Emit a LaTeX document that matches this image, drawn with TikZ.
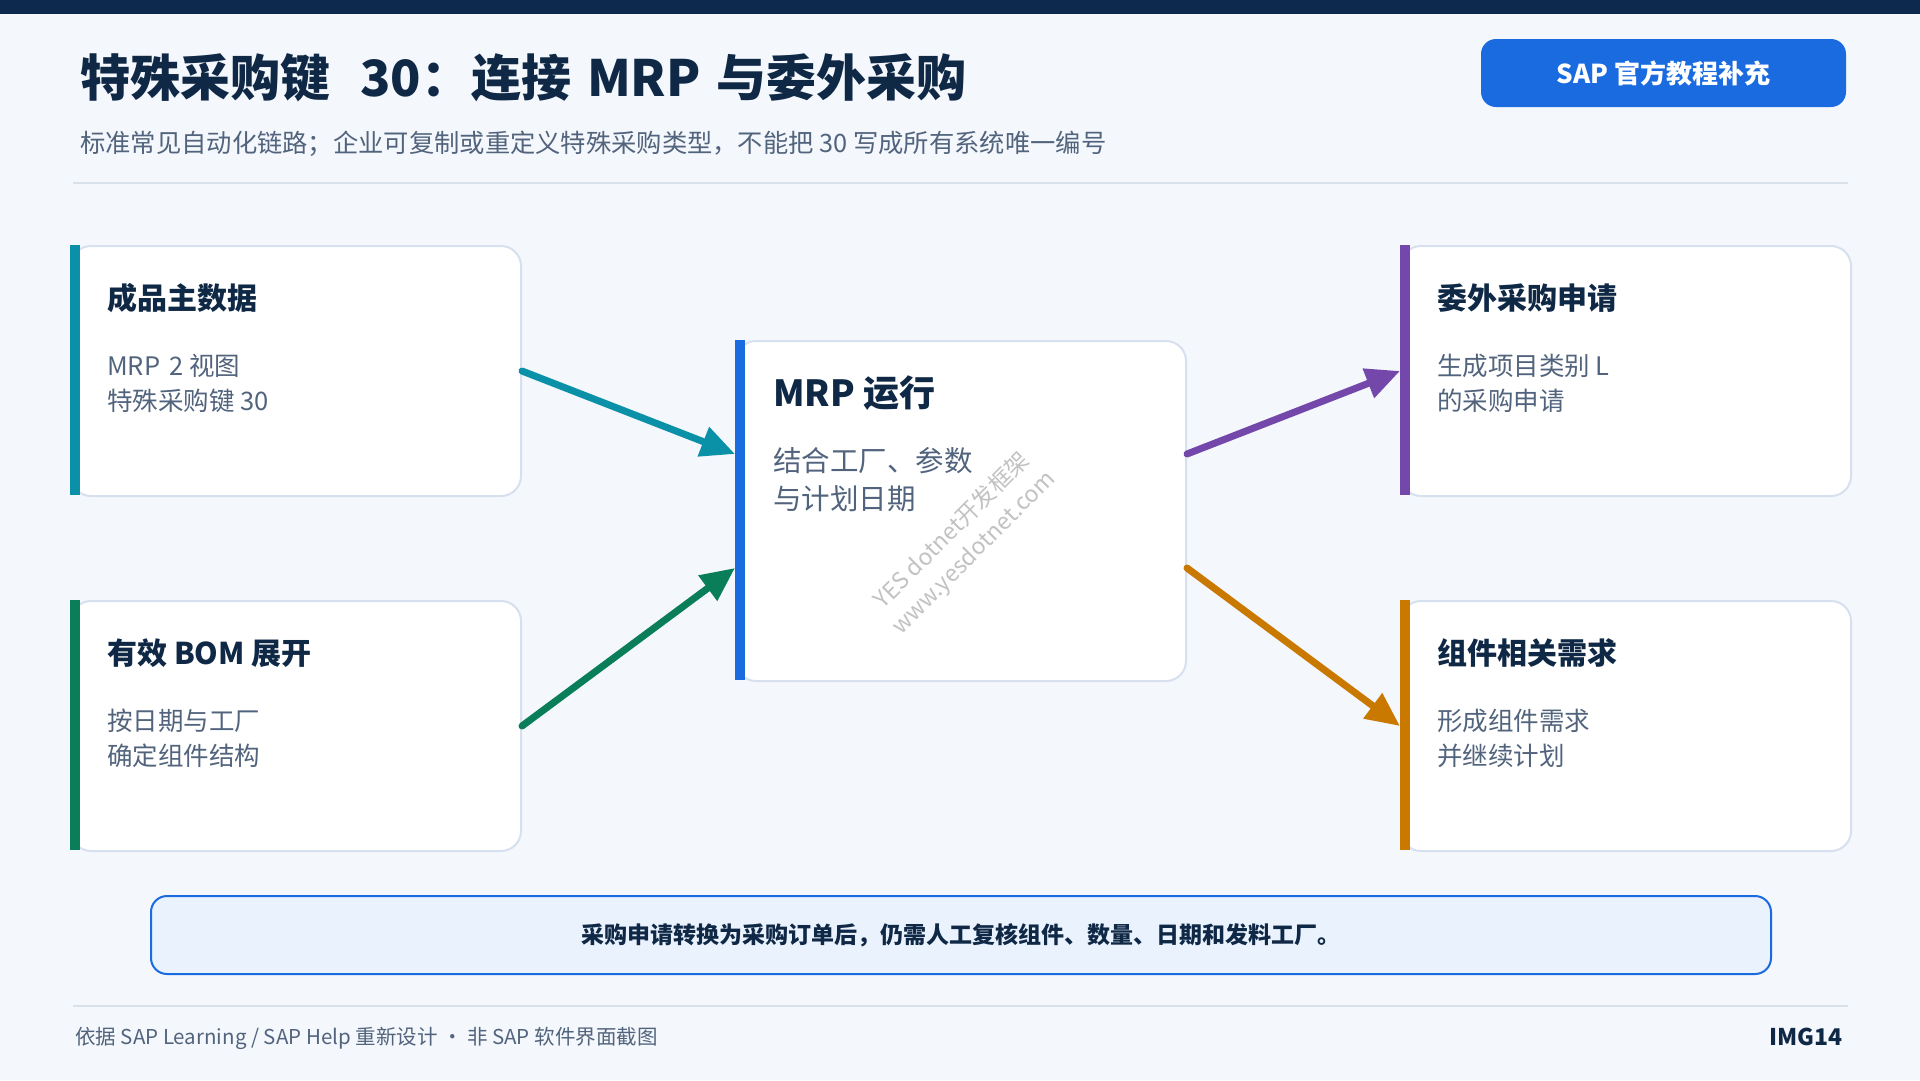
\documentclass[tikz,border=0pt]{standalone}
\usepackage{fontspec}
\setmainfont{Noto Sans CJK SC}
\usetikzlibrary{positioning,calc,arrows.meta}
\definecolor{pagebg}{HTML}{F4F7FC}
\definecolor{navy}{HTML}{0D2A4E}
\definecolor{ink}{HTML}{0F2845}
\definecolor{muted}{HTML}{52647D}
\definecolor{cardline}{HTML}{D6E0EE}
\definecolor{rulegray}{HTML}{D8E0EA}
\definecolor{sapblue}{HTML}{1A6BE0}
\definecolor{notefill}{HTML}{EAF2FE}
\definecolor{tealc}{HTML}{0A91A8}
\definecolor{greenc}{HTML}{0A7E58}
\definecolor{purplec}{HTML}{7448AA}
\definecolor{orangec}{HTML}{C97800}
\definecolor{wmgray}{HTML}{C2C2C2}
\tikzstyle{card}=[draw=cardline, line width=2pt, fill=white, rounded corners=20pt, anchor=north west, minimum width=450pt, minimum height=250pt, inner sep=0pt]
\tikzstyle{cardtitle}=[anchor=base west, inner sep=0pt, text=ink, font=\fontsize{30}{36}\selectfont\bfseries]
\tikzstyle{cardbody}=[anchor=base west, inner sep=0pt, text=muted, font=\fontsize{25.5}{30}\selectfont]
\tikzstyle{flow}=[line width=7pt, line cap=round, -{Triangle[length=34pt,width=30pt]}]
\tikzstyle{rule}=[draw=rulegray, line width=2pt]

\begin{document}
\begin{tikzpicture}[x=1pt, y=-1pt]
  \useasboundingbox (0,0) rectangle (1920,1080);
  \fill [pagebg] (0,0) rectangle (1920,1080);
  \fill [navy] (0,0) rectangle (1920,14);

  % header
  \node [anchor=base west, inner sep=0pt, text=ink, font=\fontsize{50}{58}\selectfont\bfseries] at (80,96) (title) {特殊采购键\hspace{0.6em}30：连接\hspace{0.32em}MRP\hspace{0.32em}与委外采购};
  \node [fill=sapblue, rounded corners=15pt, minimum width=365pt, minimum height=68pt, text=white, font=\fontsize{26}{30}\selectfont\bfseries] at (1663.5,73) (badge) {SAP 官方教程补充};
  \node [anchor=base west, inner sep=0pt, text=muted, font=\fontsize{25.3}{30}\selectfont] at (80,152) (subtitle) {标准常见自动化链路；企业可复制或重定义特殊采购类型，不能把 30 写成所有系统唯一编号};
  \draw [rule] (73,183) -- (1848,183);

  % cards
  \node [card] at (70,245)   (fg) {};
  \node [card] at (70,600)   (bom) {};
  \node [card, minimum height=340pt] at (735,340) (mrp) {};
  \node [card] at (1400,245) (pr) {};
  \node [card] at (1400,600) (comp) {};

  \fill [tealc]   (fg.north west)   rectangle ++(10,250);
  \fill [greenc]  (bom.north west)  rectangle ++(10,250);
  \fill [sapblue] (mrp.north west)  rectangle ++(10,340);
  \fill [purplec] (pr.north west)   rectangle ++(10,250);
  \fill [orangec] (comp.north west) rectangle ++(10,250);

  \node [cardtitle] at ($(fg.north west)+(37,64)$)   (fg_t)  {成品主数据};
  \node [cardbody]  at ($(fg.north west)+(37,130)$)  (fg_a)  {MRP\hspace{0.35em}2 视图};
  \node [cardbody]  at ($(fg.north west)+(37,165)$)  (fg_b)  {特殊采购键 30};

  \node [cardtitle] at ($(bom.north west)+(37,64)$)  (bom_t) {有效 BOM 展开};
  \node [cardbody]  at ($(bom.north west)+(37,130)$) (bom_a) {按日期与工厂};
  \node [cardbody]  at ($(bom.north west)+(37,165)$) (bom_b) {确定组件结构};

  \node [cardtitle, font=\fontsize{36}{40}\selectfont\bfseries] at ($(mrp.north west)+(38,66)$) (mrp_t) {MRP 运行};
  \node [cardbody, font=\fontsize{28.5}{34}\selectfont] at ($(mrp.north west)+(38,131)$) (mrp_a) {结合工厂、参数};
  \node [cardbody, font=\fontsize{28.5}{34}\selectfont] at ($(mrp.north west)+(38,169)$) (mrp_b) {与计划日期};

  \node [cardtitle] at ($(pr.north west)+(37,64)$)   (pr_t)  {委外采购申请};
  \node [cardbody]  at ($(pr.north west)+(37,130)$)  (pr_a)  {生成项目类别 L};
  \node [cardbody]  at ($(pr.north west)+(37,165)$)  (pr_b)  {的采购申请};

  \node [cardtitle] at ($(comp.north west)+(37,64)$)  (comp_t) {组件相关需求};
  \node [cardbody]  at ($(comp.north west)+(37,130)$) (comp_a) {形成组件需求};
  \node [cardbody]  at ($(comp.north west)+(37,165)$) (comp_b) {并继续计划};

  % watermark
  \node [rotate=45, text=wmgray, align=center, font=\fontsize{23}{31}\selectfont] at (963,542) (wm) {YES dotnet开发框架\\www.yesdotnet.com};

  % flows
  \coordinate (mrp_in1)  at ($(mrp.north west)!1/3!(mrp.south west)$);
  \coordinate (mrp_in2)  at ($(mrp.north west)!2/3!(mrp.south west)$);
  \coordinate (mrp_out1) at ($(mrp.north east)!1/3!(mrp.south east)$);
  \coordinate (mrp_out2) at ($(mrp.north east)!2/3!(mrp.south east)$);
  \draw [flow, tealc]   (fg.east)   -- (mrp_in1);
  \draw [flow, greenc]  (bom.east)  -- (mrp_in2);
  \draw [flow, purplec] (mrp_out1)  -- (pr.west);
  \draw [flow, orangec] (mrp_out2)  -- (comp.west);

  % note and footer
  \node [fill=notefill, draw=sapblue, line width=2pt, rounded corners=16pt, minimum width=1620pt, minimum height=78pt, anchor=north west, text=ink, font=\fontsize{23}{28}\selectfont\bfseries] at (150,895) (note) {采购申请转换为采购订单后，仍需人工复核组件、数量、日期和发料工厂。};
  \draw [rule] (73,1006) -- (1848,1006);
  \node [anchor=base west, inner sep=0pt, text=muted, font=\fontsize{20.5}{24}\selectfont] at (75,1044) (source) {依据 SAP Learning / SAP Help 重新设计 · 非 SAP 软件界面截图};
  \node [anchor=base east, inner sep=0pt, text=ink, font=\fontsize{23}{26}\selectfont\bfseries] at (1843,1045) (imgid) {IMG14};
\end{tikzpicture}
\end{document}
